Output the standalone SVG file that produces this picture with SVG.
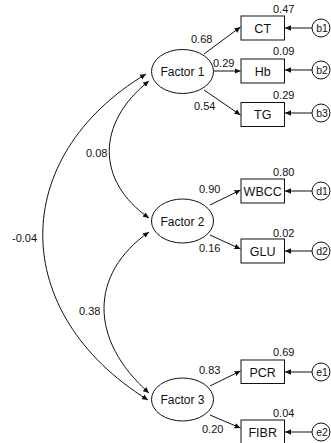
<svg xmlns="http://www.w3.org/2000/svg" width="331" height="443" viewBox="0 0 331 443">
<defs>
<marker id="ah" viewBox="0 0 10 10" refX="10" refY="5" markerWidth="6" markerHeight="6" markerUnits="userSpaceOnUse" orient="auto-start-reverse">
<path d="M0,0.5 L10,5 L0,9.5 Z" fill="#111"/>
</marker>
</defs>
<style>
.f{fill:#fff;stroke:#111;stroke-width:1}
.a{fill:none;stroke:#111;stroke-width:1;marker-end:url(#ah)}
.b{fill:none;stroke:#111;stroke-width:1;marker-start:url(#ah);marker-end:url(#ah)}
text{font-family:"Liberation Sans",Arial,sans-serif;fill:#111}
.n{font-size:11px}
.t{font-size:12px;text-anchor:middle}
.u{font-size:12.5px;text-anchor:middle}
.s{font-size:10.5px;text-anchor:middle}
</style>
<rect width="331" height="443" fill="#fff"/>
<g id="connectors">
<path class="b" d="M146,74 C8,157 8,313 148,400"/>
<path class="b" d="M149,81 C96,123 96,181 149,218"/>
<path class="b" d="M149,232 C89,274 89,340 149,393"/>
<line class="a" x1="204" y1="54" x2="240.5" y2="27"/>
<line class="a" x1="213" y1="71" x2="240.5" y2="71"/>
<line class="a" x1="204" y1="90" x2="240.5" y2="115"/>
<line class="a" x1="210" y1="205" x2="240.5" y2="190"/>
<line class="a" x1="210" y1="235" x2="240.5" y2="249"/>
<line class="a" x1="210" y1="386" x2="240.5" y2="371"/>
<line class="a" x1="210" y1="415" x2="240.5" y2="428"/>
<line class="a" x1="312" y1="28" x2="285" y2="28"/>
<line class="a" x1="312" y1="70" x2="285" y2="70"/>
<line class="a" x1="312" y1="113" x2="285" y2="113"/>
<line class="a" x1="312" y1="191" x2="285" y2="191"/>
<line class="a" x1="312" y1="251" x2="285" y2="251"/>
<line class="a" x1="312" y1="372" x2="285" y2="372"/>
<line class="a" x1="312" y1="432" x2="285" y2="432"/>
<text class="n" x="12" y="241.5">-0.04</text>
<text class="n" x="86" y="157">0.08</text>
<text class="n" x="79" y="315">0.38</text>
<text class="n" x="191" y="43">0.68</text>
<text class="n" x="213" y="67">0.29</text>
<text class="n" x="194" y="110">0.54</text>
<text class="n" x="199" y="193">0.90</text>
<text class="n" x="199" y="252">0.16</text>
<text class="n" x="199" y="374">0.83</text>
<text class="n" x="202" y="433">0.20</text>
</g>
<g id="factor1"><ellipse class="f" cx="182.5" cy="71.5" rx="31" ry="22"/><text class="t" x="182.5" y="76">Factor 1</text></g>
<g id="factor2"><ellipse class="f" cx="182.5" cy="221" rx="31" ry="22"/><text class="t" x="182.5" y="225.5">Factor 2</text></g>
<g id="factor3"><ellipse class="f" cx="182.5" cy="399.5" rx="31" ry="21.5"/><text class="t" x="182.5" y="404">Factor 3</text></g>
<g id="CT"><rect class="f" x="241" y="16" width="43.5" height="24"/><text class="u" x="262.7" y="32.5">CT</text><text class="n" x="273" y="13">0.47</text></g>
<g id="Hb"><rect class="f" x="241" y="59" width="43.5" height="24"/><text class="u" x="262.7" y="75.5">Hb</text><text class="n" x="273" y="55">0.09</text></g>
<g id="TG"><rect class="f" x="241" y="102.5" width="43.5" height="24"/><text class="u" x="262.7" y="119">TG</text><text class="n" x="273" y="99">0.29</text></g>
<g id="WBCC"><rect class="f" x="241" y="179" width="43.5" height="24"/><text class="u" x="262.7" y="195.5">WBCC</text><text class="n" x="273" y="175.5">0.80</text></g>
<g id="GLU"><rect class="f" x="241" y="239" width="43.5" height="24"/><text class="u" x="262.7" y="255.5">GLU</text><text class="n" x="273" y="236.5">0.02</text></g>
<g id="PCR"><rect class="f" x="241" y="360" width="43.5" height="23.5"/><text class="u" x="262.7" y="376.5">PCR</text><text class="n" x="273" y="356">0.69</text></g>
<g id="FIBR"><rect class="f" x="241" y="420" width="43.5" height="24"/><text class="u" x="262.7" y="436.5">FIBR</text><text class="n" x="273" y="417">0.04</text></g>
<g id="b1"><circle class="f" cx="321" cy="28" r="9"/><text class="s" x="322" y="31.7">b1</text></g>
<g id="b2"><circle class="f" cx="321" cy="70" r="9"/><text class="s" x="322" y="73.7">b2</text></g>
<g id="b3"><circle class="f" cx="321" cy="113" r="9"/><text class="s" x="322" y="116.7">b3</text></g>
<g id="d1"><circle class="f" cx="321" cy="191" r="9"/><text class="s" x="322" y="194.7">d1</text></g>
<g id="d2"><circle class="f" cx="321" cy="251" r="9"/><text class="s" x="322" y="254.7">d2</text></g>
<g id="e1"><circle class="f" cx="321" cy="372" r="9"/><text class="s" x="322" y="375.7">e1</text></g>
<g id="e2"><circle class="f" cx="321" cy="432" r="9"/><text class="s" x="322" y="435.7">e2</text></g>
</svg>
